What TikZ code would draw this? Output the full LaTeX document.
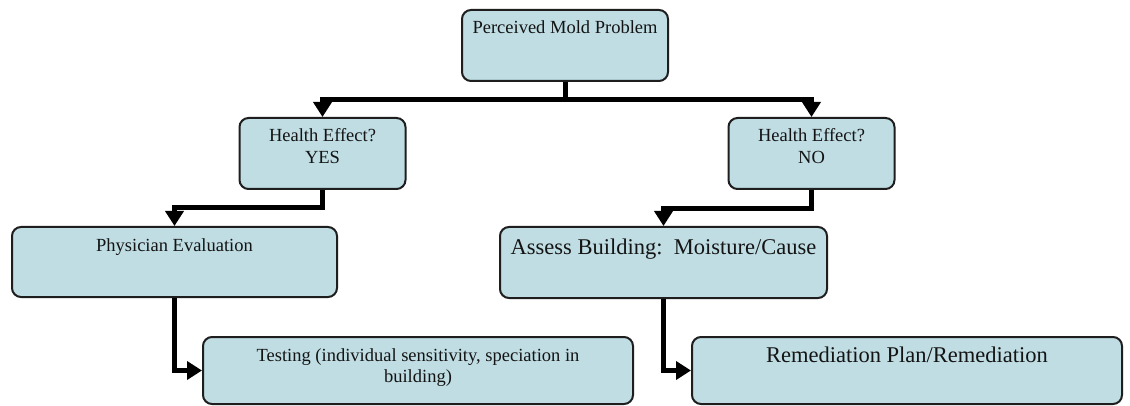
\documentclass[tikz,border=0pt]{standalone}
\usepackage{fontspec}
\setmainfont{Liberation Serif}
\usetikzlibrary{arrows.meta,calc}
\definecolor{boxfill}{RGB}{191,221,227}
\definecolor{boxline}{RGB}{30,30,30}
\definecolor{txtcol}{RGB}{20,20,20}
\begin{document}
\begin{tikzpicture}[x=1pt,y=-1pt,
  box/.style={draw=boxline, line width=2pt, fill=boxfill, rounded corners=9pt, inner sep=0pt},
  small/.style={font=\fontsize{18.5}{21.5}\selectfont, text=txtcol, inner sep=0pt, align=center, anchor=north},
  big/.style={font=\fontsize{22.5}{26}\selectfont, text=txtcol, inner sep=0pt, align=center, anchor=north},
  conn/.style={draw=black, line width=5pt, -{Triangle[length=15pt,width=18pt]}}]
\useasboundingbox[fill=white] (0,0) rectangle (1130,406);

% boxes
\node[box, minimum width=206pt, minimum height=71pt] (A) at (565,45.5) {};
\node[box, minimum width=166pt, minimum height=71pt] (B) at (322.5,153.5) {};
\node[box, minimum width=166pt, minimum height=71pt] (C) at (811.5,153.5) {};
\node[box, minimum width=325pt, minimum height=70pt] (D) at (174.5,262) {};
\node[box, minimum width=327pt, minimum height=71pt] (E) at (663.5,262.5) {};
\node[box, minimum width=430pt, minimum height=67pt] (F) at (418,370.5) {};
\node[box, minimum width=430pt, minimum height=67pt] (G) at (907,370.5) {};

% texts
\node[small] (tA) at ([yshift=-11.5pt]A.north) {Perceived Mold Problem};
\node[small] (tB) at ([yshift=-11.5pt]B.north) {Health Effect?\\YES};
\node[small] (tC) at ([yshift=-11.5pt]C.north) {Health Effect?\\NO};
\node[small] (tD) at ([yshift=-12.5pt]D.north) {Physician Evaluation};
\node[big]   (tE) at ([yshift=-12.5pt]E.north) {Assess Building:\ \ Moisture/Cause};
\node[small] (tF) at ([yshift=-12pt]F.north) {Testing (individual sensitivity, speciation in\\building)};
\node[big]   (tG) at ([yshift=-11pt]G.north) {Remediation Plan/Remediation};

% connectors
\draw[conn] (A.south) -- ++(0,18) -| (B.north);
\draw[conn] (A.south) -- ++(0,18) -| (C.north);
\draw[conn] (B.south) -- ++(0,18) -| (D.north);
\draw[conn] (C.south) -- ++(0,19) -| (E.north);
\draw[conn] (D.south) |- (F.west);
\draw[conn] (E.south) |- (G.west);
\end{tikzpicture}
\end{document}
